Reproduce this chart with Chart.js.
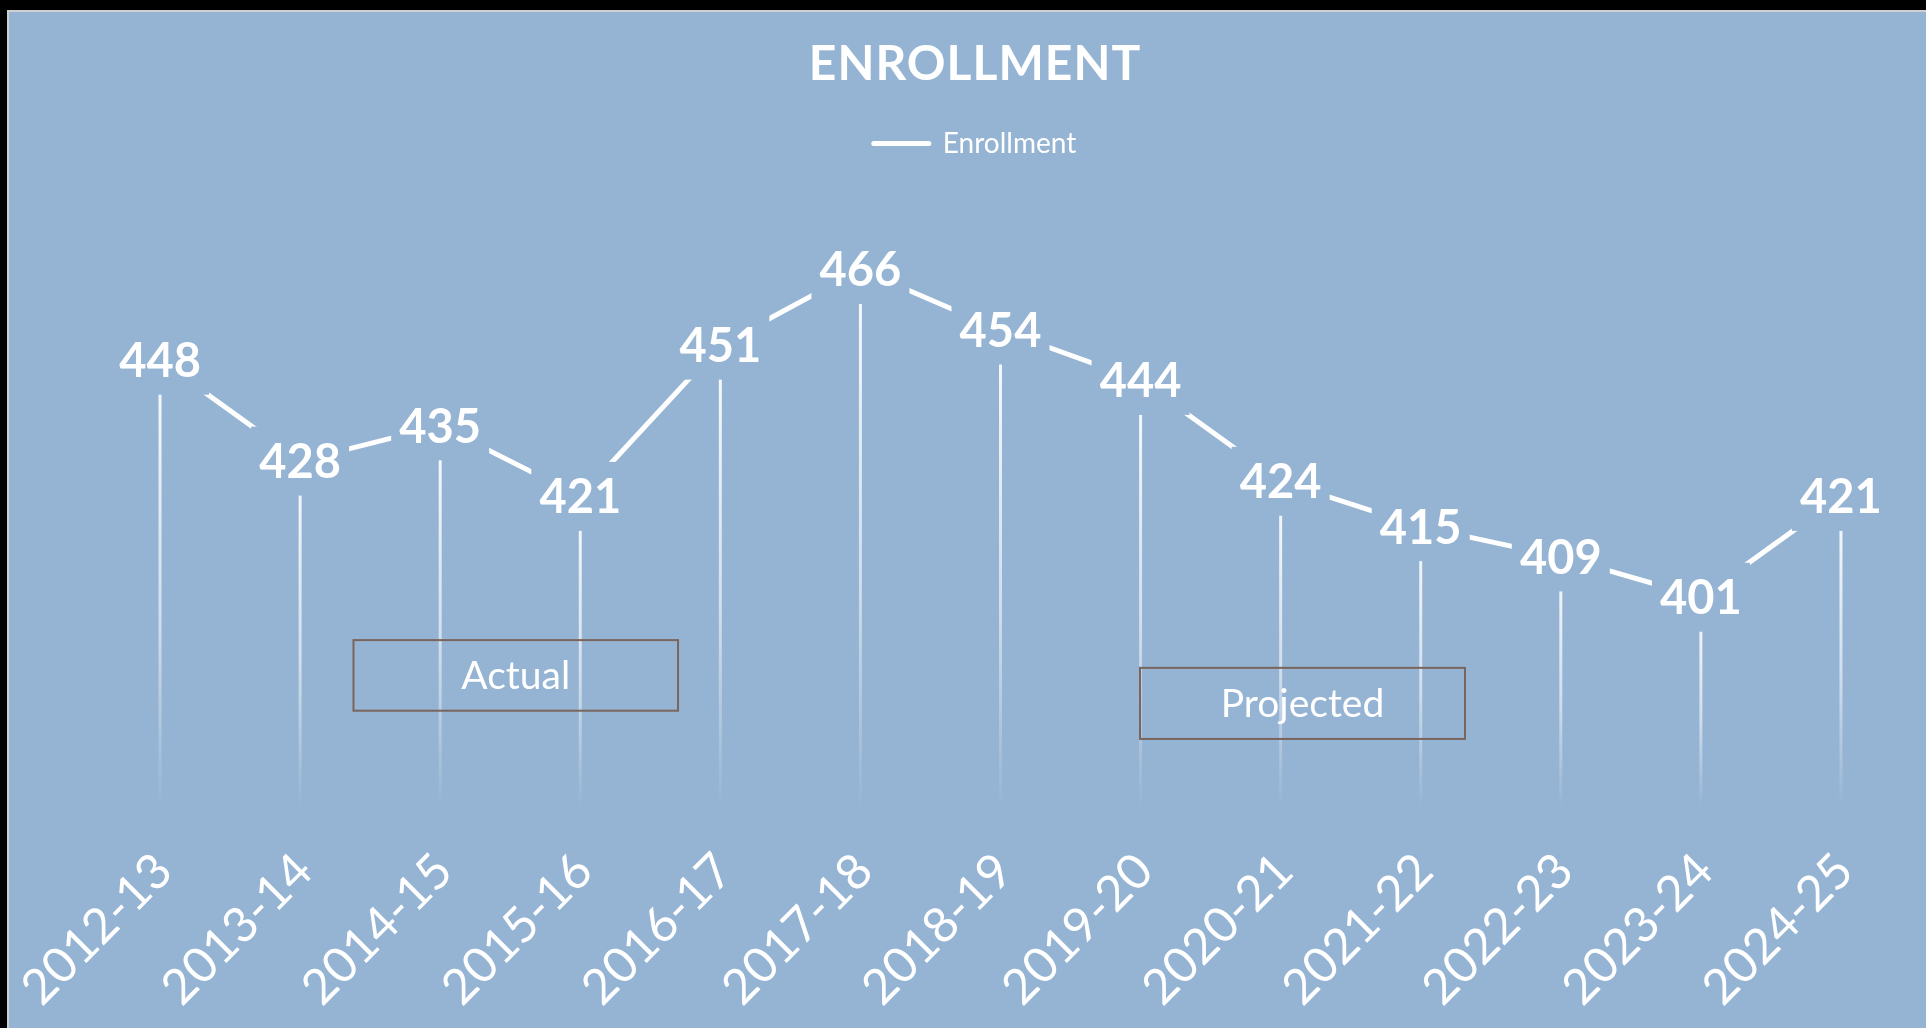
<!DOCTYPE html>
<html>
<head>
<meta charset="utf-8">
<title>Enrollment</title>
<script src="https://cdn.jsdelivr.net/npm/chart.js@4.4.0/dist/chart.umd.min.js"></script>
<style>
  html, body { margin: 0; padding: 0; background: #000; overflow: hidden; }
  #frame {
    position: absolute; left: 7px; top: 10px;
    width: 1917px; height: 1016px;
    border-top: 2px solid #cfcfcf; border-left: 2px solid #cfcfcf;
    background: #95b4d3;
  }
  canvas { display: block; }
</style>
</head>
<body>
<div id="frame"><canvas id="chart" width="1917" height="1016"></canvas></div>
<script>
const categories = ['2012-13', '2013-14', '2014-15', '2015-16', '2016-17', '2017-18', '2018-19',
                    '2019-20', '2020-21', '2021-22', '2022-23', '2023-24', '2024-25'];
const enrollment = [448, 428, 435, 421, 451, 466, 454, 444, 424, 415, 409, 401, 421];

const BG = '#95b4d3';

// text boxes over the plot ("Actual" / "Projected"), in category index and value units
const notes = [
    { text: 'Actual', x0: 1.381, x1: 3.698, y0: 392.5, y1: 378.5 },
    { text: 'Projected', x0: 6.996, x1: 9.316, y0: 387.0, y1: 372.9 }
];

// drop lines from each point down to the bottom of the plot, fading out
const dropLines = {
    id: 'dropLines',
    beforeDatasetsDraw(chart) {
        const ctx = chart.ctx;
        const area = chart.chartArea;
        ctx.save();
        chart.getDatasetMeta(0).data.forEach(pt => {
            const g = ctx.createLinearGradient(0, pt.y, 0, area.bottom);
            g.addColorStop(0, 'rgba(255,255,255,0.95)');
            g.addColorStop(0.6, 'rgba(255,255,255,0.55)');
            g.addColorStop(1, 'rgba(255,255,255,0.02)');
            ctx.strokeStyle = g;
            ctx.lineWidth = 3;
            ctx.beginPath();
            ctx.moveTo(pt.x, pt.y);
            ctx.lineTo(pt.x, area.bottom);
            ctx.stroke();
        });
        ctx.restore();
    }
};

// value labels centred on the points, with a background patch that hides the line
const valueLabels = {
    id: 'valueLabels',
    afterDatasetsDraw(chart) {
        const ctx = chart.ctx;
        ctx.save();
        ctx.font = 'bold 47px Lato';
        ctx.textAlign = 'center';
        ctx.textBaseline = 'alphabetic';
        chart.getDatasetMeta(0).data.forEach((pt, i) => {
            ctx.fillStyle = BG;
            ctx.fillRect(pt.x - 49, pt.y - 34.5, 98, 69);
            ctx.fillStyle = '#fff';
            ctx.fillText(String(enrollment[i]), pt.x, pt.y + 17);
        });

        const xs = chart.scales.x, ys = chart.scales.y;
        ctx.font = '39px Lato';
        notes.forEach(n => {
            const l = xs.getPixelForValue(n.x0), r = xs.getPixelForValue(n.x1);
            const t = ys.getPixelForValue(n.y0), b = ys.getPixelForValue(n.y1);
            ctx.strokeStyle = '#7a655c';
            ctx.lineWidth = 2;
            ctx.strokeRect(l, t, r - l, b - t);
            ctx.fillStyle = '#fff';
            ctx.fillText(n.text, (l + r) / 2, (t + b) / 2 + 14);
        });
        ctx.restore();
    }
};

// letter spacing for the title
const spacedTitle = {
    id: 'spacedTitle',
    beforeDraw(chart) {
        const t = chart.titleBlock;
        if (t && !t._spaced) {
            const orig = t.draw.bind(t);
            t.draw = function (a) {
                chart.ctx.save();
                chart.ctx.letterSpacing = '1px';
                orig(a);
                chart.ctx.restore();
            };
            t._spaced = true;
        }
    }
};

const ctx = document.getElementById('chart').getContext('2d');
const chart = new Chart(ctx, {
    type: 'line',
    data: {
        labels: categories,
        datasets: [{
            label: 'Enrollment',
            data: enrollment,
            borderColor: '#ffffff',
            backgroundColor: '#ffffff',
            borderWidth: 5,
            pointRadius: 0,
            pointStyle: 'line',
            tension: 0,
            fill: false
        }]
    },
    options: {
        responsive: false,
        animation: false,
        layout: { padding: { left: 15, right: 0, top: 0, bottom: 0 } },
        plugins: {
            title: {
                display: true,
                text: 'ENROLLMENT',
                color: '#ffffff',
                font: { family: 'Lato', size: 48, weight: 'bold' },
                padding: { top: 24, bottom: 28 }
            },
            legend: {
                display: true,
                position: 'top',
                labels: {
                    color: '#ffffff',
                    font: { family: 'Lato', size: 28 },
                    usePointStyle: true,
                    pointStyleWidth: 55,
                    padding: 8,
                    generateLabels(chart) {
                        const items = Chart.defaults.plugins.legend.labels.generateLabels(chart);
                        items.forEach(it => {
                            it.pointStyle = 'line';
                            it.lineCap = 'round';
                            it.lineWidth = 5;
                            it.strokeStyle = '#ffffff';
                            it.fontColor = '#ffffff';
                        });
                        return items;
                    }
                }
            },
            tooltip: { enabled: false }
        },
        scales: {
            x: {
                offset: true,
                grid: { display: false, drawTicks: false },
                border: { display: false },
                ticks: {
                    color: '#ffffff',
                    font: { family: 'Lato', size: 49 },
                    minRotation: 45,
                    maxRotation: 45,
                    autoSkip: false,
                    padding: 38,
                    labelOffset: 4
                },
                afterFit(axis) {
                    axis.height = 224;
                    axis.paddingLeft = 81;
                    axis.paddingRight = 15;
                }
            },
            y: {
                display: false,
                min: 360,
                max: 486.2
            }
        }
    },
    plugins: [dropLines, valueLabels, spacedTitle]
});
</script>
</body>
</html>
